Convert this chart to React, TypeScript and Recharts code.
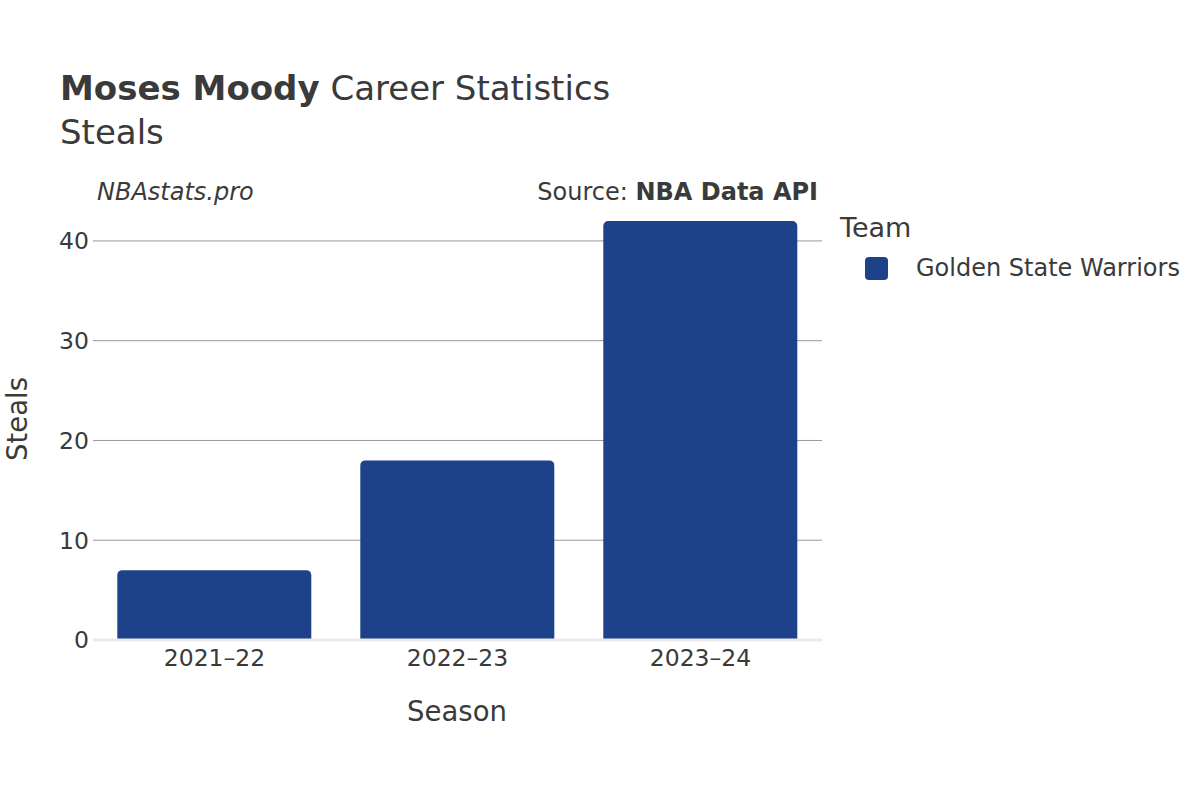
import { Bar, BarChart, CartesianGrid, ReferenceLine, XAxis, YAxis } from 'recharts';

const seasons = ['2021–22', '2022–23', '2023–24'];
const steals = [7, 18, 42];
const team = 'Golden State Warriors';
const yTicks = [0, 10, 20, 30, 40];

const BLUE = '#1D4289';
const TEXT = '#3a3a3a';
const FONT = '"DejaVu Sans", sans-serif';

const data = seasons.map((season, i) => ({ season, steals: steals[i] }));

export default function App() {
  return (
    <div style={{ position: 'absolute', left: 0, top: 0, width: 1200, height: 800, background: '#fff' }}>
      <BarChart width={1200} height={800} data={data} margin={{ top: 201, right: 378, bottom: 100, left: 0 }} barCategoryGap="10%">
        <CartesianGrid vertical={false} stroke="#999" horizontalValues={[10, 20, 30, 40]} />
        <XAxis dataKey="season" height={60} axisLine={false} tickLine={false} tickSize={0} tickMargin={9}
          tick={{ fontSize: 23.5, fill: TEXT, fontFamily: FONT }} />
        <YAxis width={93} domain={[0, 44]} ticks={yTicks} axisLine={false} tickLine={false} tickSize={0} tickMargin={4}
          tick={{ fontSize: 23.5, fill: TEXT, fontFamily: FONT }} />
        <ReferenceLine y={0} stroke="#ebebeb" strokeWidth={3} />
        <Bar dataKey="steals" name={team} fill={BLUE} radius={[5, 5, 0, 0]} isAnimationActive={false} />
      </BarChart>
      <div style={{ position: 'absolute', left: 840, top: 210, fontFamily: FONT, color: TEXT }}>
        <div style={{ fontSize: 27, lineHeight: '36px' }}>Team</div>
        <div style={{ display: 'flex', alignItems: 'center', marginLeft: 25, marginTop: 8 }}>
          <span style={{ width: 23, height: 23, borderRadius: 4, background: BLUE, display: 'inline-block' }} />
          <span style={{ fontSize: 24, marginLeft: 28 }}>{team}</span>
        </div>
      </div>
      <svg width={1200} height={800} style={{ position: 'absolute', left: 0, top: 0, pointerEvents: 'none' }} fontFamily={FONT} fill={TEXT}>
        <text x={60} y={100} fontSize={34}>
          <tspan fontWeight="bold">Moses Moody</tspan> Career Statistics
        </text>
        <text x={60} y={144} fontSize={34}>Steals</text>
        <text x={97} y={200} fontSize={24} fontStyle="italic">NBAstats.pro</text>
        <text x={818} y={200} fontSize={24} textAnchor="end">
          Source: <tspan fontWeight="bold">NBA Data API</tspan>
        </text>
        <text x={457} y={721} fontSize={27.5} textAnchor="middle">Season</text>
        <text x={27} y={419} fontSize={27.5} textAnchor="middle" transform="rotate(-90 27 419)">Steals</text>
      </svg>
    </div>
  );
}
